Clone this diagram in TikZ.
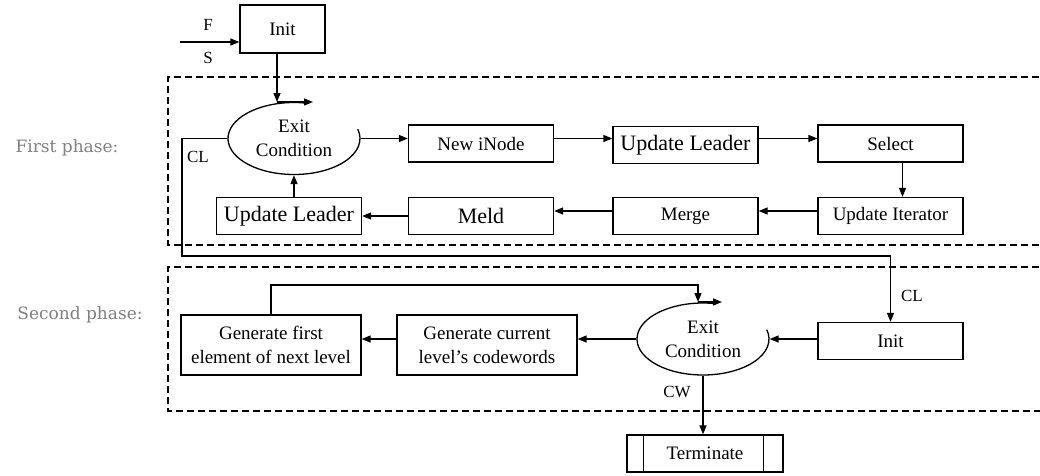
\documentclass[tikz,border=0pt]{standalone}
\usepackage{fontspec}
\setmainfont{Liberation Serif}
\newfontfamily\phasefont{DejaVu Serif}
\usetikzlibrary{arrows.meta,shapes.geometric}
\begin{document}
\begin{tikzpicture}[x=1pt,y=1pt,line width=1.3pt,font=\fontsize{19}{24}\selectfont,
  >={Triangle[length=9pt,width=7pt]},
  box/.style={draw,rectangle,inner sep=0pt,align=center,minimum width=145pt,minimum height=37pt},
  cond/.style={ellipse,inner sep=0pt,align=center,minimum width=132pt,minimum height=72pt},
  big/.style={font=\fontsize{22}{26}\selectfont},
  tag/.style={font=\fontsize{17}{20}\selectfont},
  phase/.style={font=\phasefont\fontsize{17}{20}\selectfont,text=gray},
  phasebox/.style={dash pattern=on 7pt off 4pt}]
\useasboundingbox (0,0) rectangle (1040,-475);
\draw[phasebox] (1050,-77) -| (168,-245) -- (1050,-245);
\draw[phasebox] (1050,-267) -| (168,-411) -- (1050,-411);
\node[phase] (first) at (67,-148) {First phase:};
\node[phase] (second) at (80,-315) {Second phase:};
\node[box,minimum width=85pt,minimum height=48pt] (init) at (282.5,-29) {Init};
\node[cond] (exit) at (294,-138.5) {Exit\\Condition};
\node[box] (inode) at (481,-143.5) {New iNode};
\node[box,big] (leader) at (685.5,-145) {Update Leader};
\node[box] (select) at (890.5,-143.5) {Select};
\node[box] (iter) at (890.5,-216) {Update Iterator};
\node[box] (merge) at (685.5,-216) {Merge};
\node[box,big] (meld) at (481,-216) {Meld};
\node[box,big] (relead) at (289,-216) {Update Leader};
\node[box] (reinit) at (890.5,-341) {Init};
\node[cond] (stop) at (703,-339) {Exit\\Condition};
\node[box,minimum width=180pt,minimum height=60pt] (current) at (487,-345) {Generate current\\level’s codewords};
\node[box,minimum width=180pt,minimum height=60pt] (next) at (271,-345) {Generate first\\element of next level};
\node[box,minimum width=156pt] (term) at (705,-453.5) {Terminate};
\node[tag] (f) at (208,-25) {F};
\node[tag] (s) at (208,-58) {S};
\node[tag] (cl) at (198,-157) {CL};
\node[tag] (clin) at (912,-296) {CL};
\node[tag] (cw) at (677,-392) {CW};
\coordinate (fs) at (180,-42);
\coordinate (loop) at (277,-102);
\coordinate (reloop) at (698,-302);
\coordinate (back) at (182,-256);
\draw ([shift={(80:66pt and 36pt)}]exit.center) arc[start angle=80,end angle=375,x radius=66pt,y radius=36pt];
\draw ([shift={(80:66pt and 36pt)}]stop.center) arc[start angle=80,end angle=375,x radius=66pt,y radius=36pt];
\draw ([xshift=17pt]term.north west) -- ([xshift=17pt]term.south west);
\draw ([xshift=-20pt]term.north east) -- ([xshift=-20pt]term.south east);
\draw[->] (fs) -- (fs -| init.west);
\draw[->] (init.south -| loop) -- (loop);
\draw[->] (loop) -- ++(36,0);
\draw[->] (exit.east) -- (exit.east -| inode.west);
\draw[->] (inode.east |- exit.east) -- (exit.east -| leader.west);
\draw[->] (leader.east |- exit.east) -- (exit.east -| select.west);
\draw[->] ([xshift=12pt]select.south) -- ([xshift=12pt]iter.north);
\draw[->] ([yshift=5pt]iter.west) -- ([yshift=5pt]merge.east);
\draw[->] ([yshift=5pt]merge.west) -- ([yshift=5pt]meld.east);
\draw[->] (meld.west) -- (relead.east);
\draw[->] (relead.north -| exit.south) -- (exit.south);
\draw[->] (exit.west) -| (back) -| (reinit.north);
\draw[->] (reinit.west |- stop.east) -- (stop.east);
\draw[->] (stop.west) -- (stop.west -| current.east);
\draw[->] (current.west |- stop.west) -- (stop.west -| next.east);
\draw[->] (next.north) |- ([yshift=17pt]reloop) -- (reloop);
\draw[->] (reloop) -- ++(24,0);
\draw[->] (stop.south) -- (stop.south |- term.north);
\end{tikzpicture}
\end{document}
